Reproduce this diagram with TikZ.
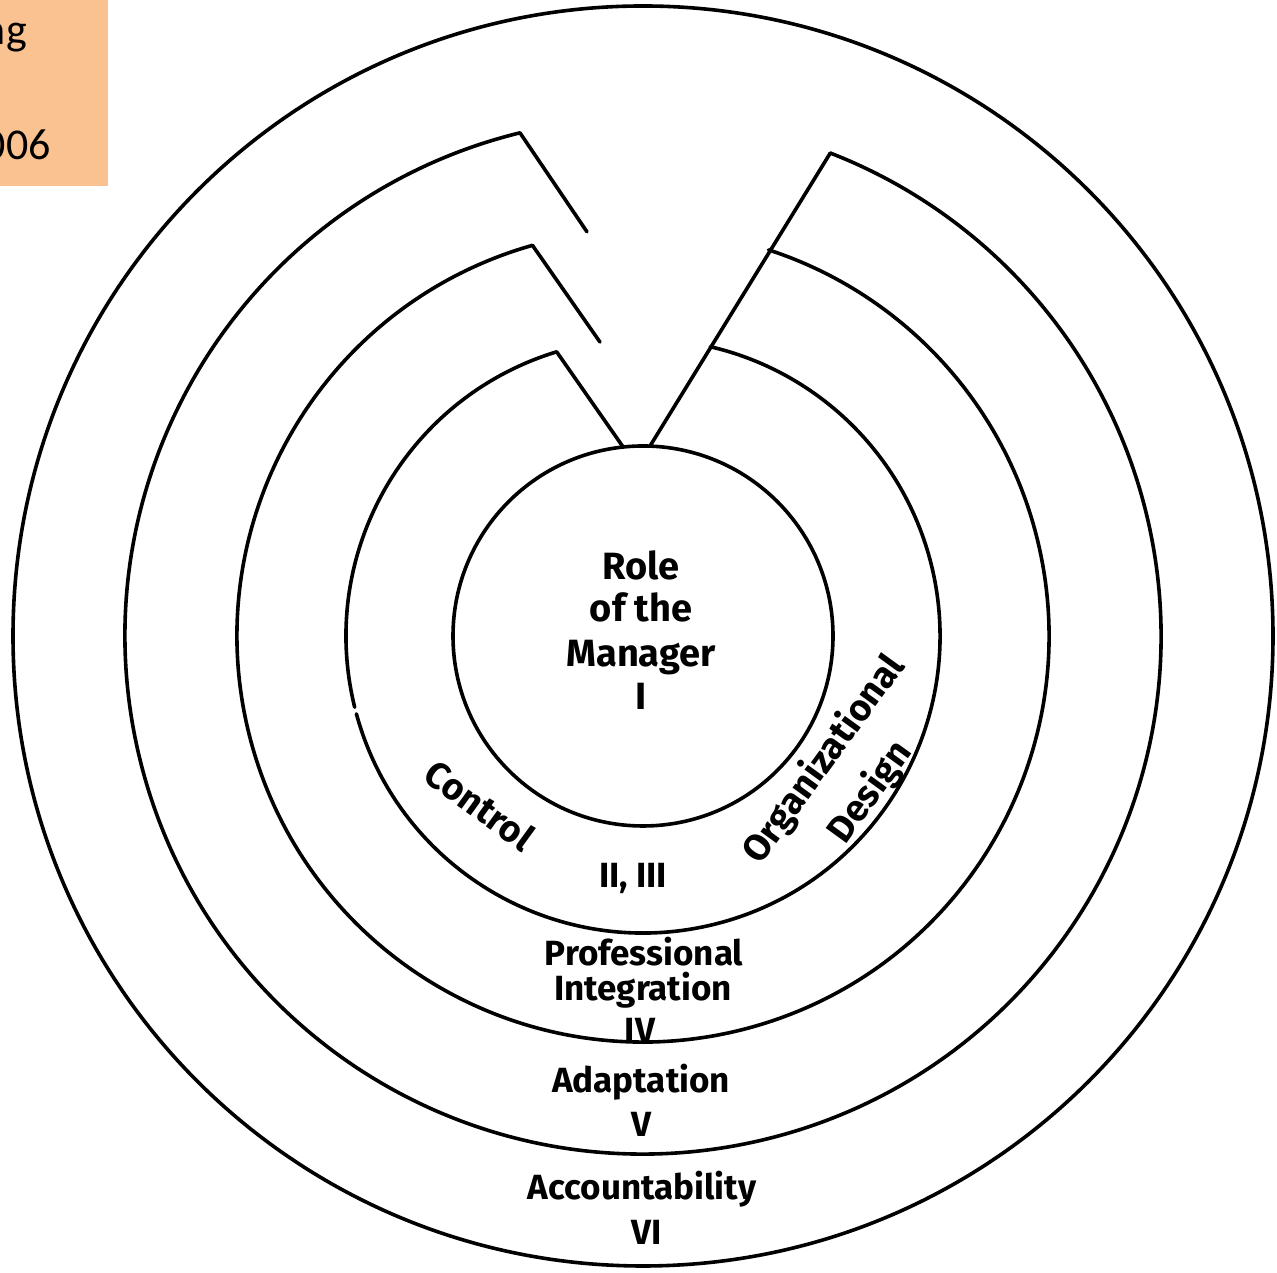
\documentclass[tikz,border=0pt]{standalone}
\usepackage{fontspec}
\setmainfont{Fira Sans}
\newfontfamily\notefont{Carlito}
\usetikzlibrary{calc}
\definecolor{notebg}{RGB}{250,193,145}
\begin{document}
\begin{tikzpicture}[x=1pt,y=1pt,
  ring/.style={line width=3.6pt, line cap=round, line join=miter},
  lbl/.style={font=\bfseries\fontsize{35}{38}\selectfont, inner sep=0pt, anchor=base},
  big/.style={lbl, font=\bfseries\fontsize{38}{40}\selectfont},
  slant/.style={lbl, font=\bfseries\fontsize{37}{40}\selectfont},
  note/.style={font=\notefont\fontsize{44}{48}\selectfont, inner sep=0pt, anchor=base east}]
\useasboundingbox (0,0) rectangle (1277,1273);
\fill[white] (0,0) rectangle (1277,1273);

% corner note, cut off at the left edge
\begin{scope}
  \clip (0,1087) rectangle (108,1273);
  \fill[notebg] (0,1087) rectangle (108,1273);
  \node[note] (noteA) at (27,1228) {ng};
  \node[note] (noteB) at (51,1113) {006};
\end{scope}

\coordinate (C) at (643,637);

% outermost ring (VI)
\draw[ring] (C) circle[radius=630];

% ring V with its notch
\draw[ring] (C) ++(103.74:518) coordinate (r2a)
  arc[start angle=103.74, end angle=428.8, radius=518] coordinate (r2b);
\coordinate (r2t) at ($(r2a)+(67,-99)$);
\draw[ring] (r2a) -- (r2t);

% ring IV
\draw[ring] (C) ++(105.8:406) coordinate (r3a)
  arc[start angle=105.8, end angle=432.0, radius=406] coordinate (r3b);
\coordinate (r3t) at ($(r3a)+(67.5,-96.7)$);
\draw[ring] (r3a) -- (r3t);

% ring II, III (small break on the left side)
\draw[ring] (C) ++(106.9:297) coordinate (r4a)
  arc[start angle=106.9, end angle=193.9, radius=297];
\draw[ring] (C) ++(195.2:297)
  arc[start angle=195.2, end angle=436.9, radius=297] coordinate (r4b);

% inner circle (I)
\draw[ring] (C) circle[radius=190];
\coordinate (footL) at ($(C)+(96:190)$);
\coordinate (footR) at ($(C)+(87.9:190)$);
\draw[ring] (r4a) -- (footL);

% the long divider on the right
\draw[ring] (r2b) -- (footR);

% labels
\node[big] (role1) at (641,693) {Role};
\node[big] (role2) at (641,651) {of the};
\node[big] (role3) at (641,606) {Manager};
\node[big] (role4) at (641,563) {I};

\node[slant, rotate=-36] (ctrl) at (472,457) {Control};
\node[slant, rotate=54] (org1) at (833,507) {Organizational};
\node[slant, rotate=54] (org2) at (879,474) {Design};
\node[lbl] (two) at (633,385) {II, III};

\node[lbl] (prof1) at (644,307) {Professional};
\node[lbl] (prof2) at (643,272) {Integration};
\node[lbl] (prof3) at (640,230) {IV};
\node[lbl] (adap1) at (641,180) {Adaptation};
\node[lbl] (adap2) at (641,136) {V};
\node[lbl] (acc1) at (642,73) {Accountability};
\node[lbl] (acc2) at (647,28) {VI};
\end{tikzpicture}
\end{document}
